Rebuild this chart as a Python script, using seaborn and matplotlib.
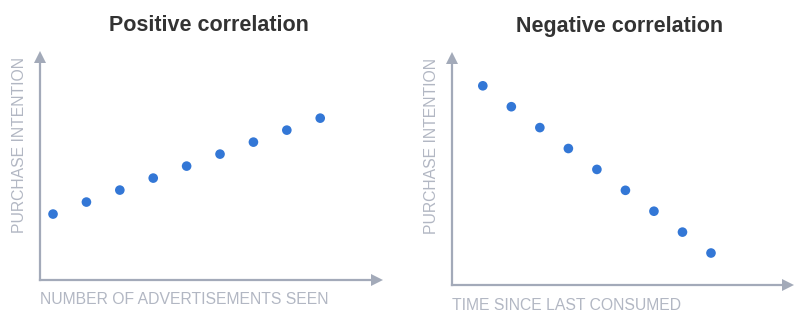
import numpy as np
import pandas as pd
import matplotlib.pyplot as plt
import seaborn as sns

# data (arbitrary units, evenly spaced)
ads_seen = [1, 2, 3, 4, 5, 6, 7, 8, 9]
intention_pos = [1, 2, 3, 4, 5, 6, 7, 8, 9]
time_since = [1, 2, 3, 4, 5, 6, 7, 8, 9]
intention_neg = [9, 8, 7, 6, 5, 4, 3, 2, 1]

titles = ["Positive correlation", "Negative correlation"]
xlabels = ["NUMBER OF ADVERTISEMENTS SEEN", "TIME SINCE LAST CONSUMED"]
ylabel = "PURCHASE INTENTION"

sns.set_theme(style="white")
plt.rcParams['font.family'] = ['Liberation Sans', 'DejaVu Sans']

dot_color = "#3377d6"
axis_color = "#a3aab9"
label_color = "#b2b7c3"
title_color = "#333333"

W, H = 795, 313
fig = plt.figure(figsize=(W / 100, H / 100), dpi=100)


def px_axes(left, top, right, bottom):
    return fig.add_axes([left / W, 1 - bottom / H, (right - left) / W, (bottom - top) / H])


ax1 = px_axes(40, 57, 377, 280)
ax2 = px_axes(452, 58, 788, 285)

pos_df = pd.DataFrame({"x": ads_seen, "y": intention_pos})
neg_df = pd.DataFrame({"x": time_since, "y": intention_neg})

sns.scatterplot(data=pos_df, x="x", y="y", ax=ax1, color=dot_color, s=48, edgecolor="none")
sns.scatterplot(data=neg_df, x="x", y="y", ax=ax2, color=dot_color, s=48, edgecolor="none")

ax1.set_xlim(0.61, 10.7)
ax1.set_ylim(-4.5, 14.1)
ax2.set_xlim(-0.08, 11.7)
ax2.set_ylim(-0.53, 10.33)

for ax, title, xl in zip([ax1, ax2], titles, xlabels):
    for side in ["top", "right"]:
        ax.spines[side].set_visible(False)
    for side in ["left", "bottom"]:
        ax.spines[side].set_color(axis_color)
        ax.spines[side].set_linewidth(1.6)
    ax.set_xticks([])
    ax.set_yticks([])
    ax.plot(1, 0, ">", transform=ax.transAxes, clip_on=False, color=axis_color, ms=8, mew=0)
    ax.plot(0, 1, "^", transform=ax.transAxes, clip_on=False, color=axis_color, ms=8, mew=0)
    ax.set_xlabel(xl, loc="left", color=label_color, fontsize=11.3, labelpad=9)
    ax.set_ylabel(ylabel, loc="top", color=label_color, fontsize=11.3, labelpad=9)
    ax.set_title(title, color=title_color, fontsize=15.5, fontweight="bold", pad=19)

fig.savefig("out.png", dpi=100)
